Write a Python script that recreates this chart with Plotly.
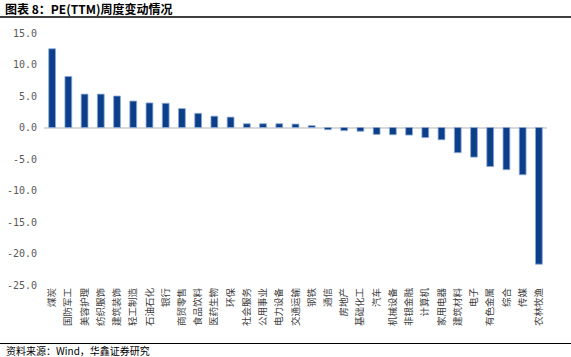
import plotly.graph_objects as go

categories = ["煤炭", "国防军工", "美容护理", "纺织服饰", "建筑装饰", "轻工制造", "石油石化", "银行",
              "商贸零售", "食品饮料", "医药生物", "环保", "社会服务", "公用事业", "电力设备", "交通运输",
              "钢铁", "通信", "房地产", "基础化工", "汽车", "机械设备", "非银金融", "计算机",
              "家用电器", "建筑材料", "电子", "有色金属", "综合", "传媒", "农林牧渔"]
values = [12.5, 8.1, 5.3, 5.3, 5.0, 4.2, 3.9, 3.85,
          3.0, 2.25, 1.8, 1.65, 0.6, 0.6, 0.6, 0.55,
          0.3, -0.35, -0.5, -0.6, -1.1, -1.15, -1.2, -1.6,
          -1.95, -4.0, -4.7, -6.2, -6.7, -7.5, -21.7]
y_ticks = [15, 10, 5, 0, -5, -10, -15, -20, -25]
y_tick_labels = ["15.0", "10.0", "5.0", "0.0", "-5.0", "-10.0", "-15.0", "-20.0", "-25.0"]

W, H = 571, 357
ml, mr, mt, mb = 44, 24, 33, 72
pw, ph = W - ml - mr, H - mt - mb

def px_x(px):
    return (px - ml) / pw

def px_y(py):
    return (H - mb - py) / ph

fig = go.Figure(go.Bar(
    x=categories, y=values,
    marker=dict(color="#0B3F8A", line=dict(color="#8FAAD6", width=0.8)),
    width=0.42,
))

fig.update_layout(
    width=W, height=H,
    margin=dict(l=ml, r=mr, t=mt, b=mb, autoexpand=False),
    paper_bgcolor="white", plot_bgcolor="white",
    showlegend=False,
    font=dict(family="Noto Sans CJK SC", size=10, color="#595959"),
)
fig.update_xaxes(
    tickangle=-90, showgrid=False, showline=False, ticks="", automargin=False,
    tickfont=dict(size=9.5, color="#404040", family="Noto Sans CJK SC"),
)
fig.update_yaxes(
    range=[-25, 15], tickvals=y_ticks, ticktext=y_tick_labels,
    showgrid=False, zeroline=True, zerolinecolor="#D9D9D9", zerolinewidth=1.5,
    tickfont=dict(size=10, color="#595959", family="DejaVu Sans Mono"),
    ticks="", showline=False, automargin=False, ticklabelstandoff=6,
)

fig.add_shape(type="line", xref="paper", yref="paper",
              x0=px_x(0), x1=px_x(W), y0=px_y(17), y1=px_y(17),
              line=dict(color="black", width=1.5))
fig.add_shape(type="line", xref="paper", yref="paper",
              x0=px_x(0), x1=px_x(W), y0=px_y(343.5), y1=px_y(343.5),
              line=dict(color="black", width=1.2))
fig.add_annotation(xref="paper", yref="paper", x=px_x(3), y=px_y(9),
                   xanchor="left", yanchor="middle", showarrow=False,
                   text="<b>图表 8：PE(TTM)周度变动情况</b>",
                   font=dict(size=12, color="black", family="Noto Sans CJK SC"))
fig.add_annotation(xref="paper", yref="paper", x=px_x(4), y=px_y(350),
                   xanchor="left", yanchor="middle", showarrow=False,
                   text="资料来源：Wind，华鑫证券研究",
                   font=dict(size=10, color="black", family="Noto Sans CJK SC"))

fig.write_html("out.html", config={"displayModeBar": False},
               post_script="document.body.style.margin='0px';document.body.style.overflow='hidden';")
